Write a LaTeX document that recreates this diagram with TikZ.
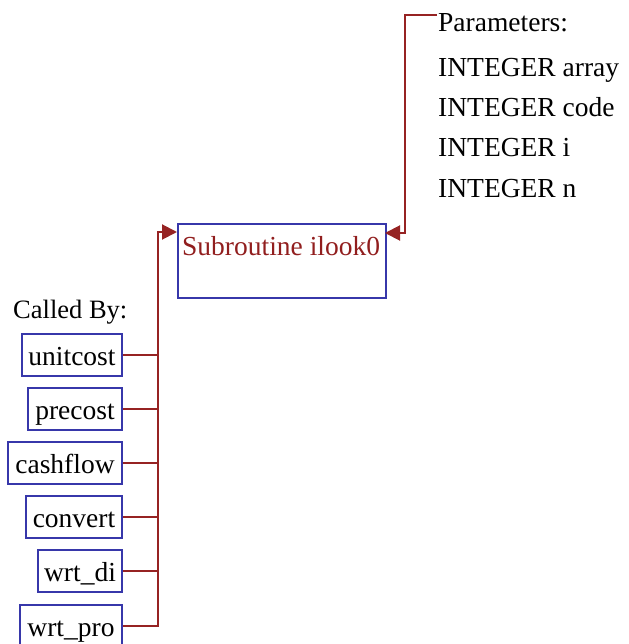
\documentclass[tikz,border=0pt]{standalone}
\usepackage{fontspec}
\setmainfont{Liberation Serif}
\usetikzlibrary{arrows.meta}
\definecolor{boxblue}{RGB}{55,55,170}
\definecolor{linered}{RGB}{150,35,35}
\definecolor{textred}{RGB}{145,30,30}
\tikzset{
  every node/.style={font=\fontsize{27.5}{30}\selectfont},
  callbox/.style={draw=boxblue, line width=2pt, minimum height=42pt, inner sep=0pt, text height=21pt, text depth=0pt, anchor=east},
  link/.style={draw=linered, line width=2pt},
  arr/.style={link, -{Triangle[length=15pt,width=15pt]}},
  txt/.style={anchor=base west, inner sep=0pt, text=black},
}
\begin{document}
\begin{tikzpicture}[x=1pt,y=-1pt]
\useasboundingbox (0,0) rectangle (628,644);
% main subroutine box
\node[draw=boxblue, line width=2pt, minimum width=208pt, minimum height=74pt, inner sep=0pt, anchor=north west] (main) at (177,223) {};
\node[txt, text=textred] (mainlabel) at (182,255) {Subroutine ilook0};
% parameters
\node[txt] (p0) at (438,32) {Parameters:};
\node[txt] (p1) at (438,77) {INTEGER array};
\node[txt] (p2) at (438,117) {INTEGER code};
\node[txt] (p3) at (438,157) {INTEGER i};
\node[txt] (p4) at (438,197) {INTEGER n};
\coordinate (pin) at (437,15);
\coordinate (pj) at (405,15);
\coordinate (mainR) at (385,233);
\draw[arr] (pin) -- (pj) |- (mainR);
% called by
\node[txt, font=\fontsize{26.5}{30}\selectfont] (calledby) at (13,318) {Called By:};
\node[callbox, minimum width=100pt] (c1) at (123,354.5) {unitcost};
\node[callbox, minimum width=94pt] (c2) at (123,409) {precost};
\node[callbox, minimum width=114pt] (c3) at (123,463) {cashflow};
\node[callbox, minimum width=96pt] (c4) at (123,517) {convert};
\node[callbox, minimum width=84pt] (c5) at (123,571) {wrt\_di};
\node[callbox, minimum width=102pt] (c6) at (123,626) {wrt\_pro};
\coordinate (jL) at (158,232);
\coordinate (mainL) at (177,232);
\draw[arr] (c6.east) -| (jL) -- (mainL);
\foreach \n in {c1,c2,c3,c4,c5} \draw[link] (\n.east) -- (\n.east -| jL);
\end{tikzpicture}
\end{document}
